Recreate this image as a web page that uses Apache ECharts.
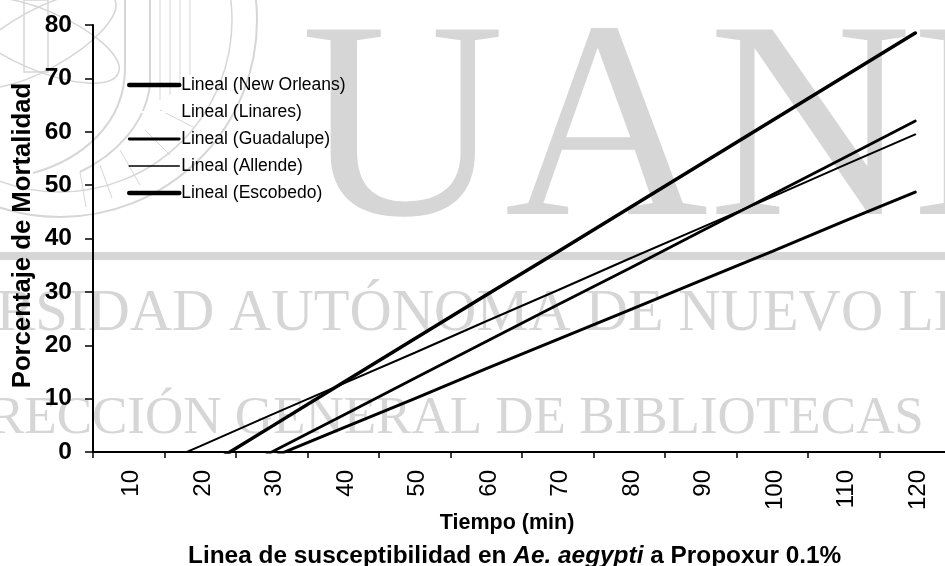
<!DOCTYPE html>
<html><head><meta charset="utf-8">
<style>html,body{margin:0;padding:0;background:#fff}#c{width:945px;height:566px}</style>
<script src="https://cdn.jsdelivr.net/npm/echarts@6/dist/echarts.min.js"></script>
</head><body><div id="c"></div>
<script>
const categories = ['10','20','30','40','50','60','70','80','90','100','110','120'];
const newOrleans = [-11.6,-3.4,4.8,13,21.2,29.4,37.5,45.7,53.9,62.1,70.3,78.5];
const linares = [];
const guadalupe = [-13.8,-6.9,0,6.9,13.8,20.7,27.6,34.4,41.3,48.2,55.1,62];
const allende = [-4.7,1.1,7,12.8,18.6,24.5,30.3,36.2,42,47.8,53.7,59.5];
const escobedo = [-12,-6.5,-1,4.5,10,15.6,21.1,26.6,32.1,37.6,43.2,48.7];
const wm = '#d6d6d6';
const serif = '"Liberation Serif"';
const sans = '"Liberation Sans"';
function ring(cx,cy,r,w){return {type:'circle',silent:true,z:-10,shape:{cx,cy,r},style:{fill:null,stroke:wm,lineWidth:w||1.5}};}
function txt(text,x,y,size){return {type:'text',silent:true,z:-10,x,y,style:{text,fill:wm,font:size+'px '+serif,textVerticalAlign:'bottom'}};}
function seg(a,b,c,d,w){return {type:'line',silent:true,z:-10,shape:{x1:a,y1:b,x2:c,y2:d},style:{stroke:wm,lineWidth:w||1}};}
function bez(x1,y1,cpx1,cpy1,cpx2,cpy2,x2,y2,w){return {type:'bezierCurve',silent:true,z:-10,shape:{x1,y1,cpx1,cpy1,cpx2,cpy2,x2,y2},style:{fill:null,stroke:wm,lineWidth:w||2}};}
const decor = [
  {type:'rect',silent:true,z:-11,shape:{x:0,y:252,width:945,height:8},style:{fill:wm}},
  txt('UANL',301,281,282),
  txt('UNIVERSIDAD AUTÓNOMA DE NUEVO LEÓN',-186,344,58.6),
  txt('DIRECCIÓN GENERAL DE BIBLIOTECAS',-67,446,53),
  ring(60,20,197,2), ring(60,20,172,1.5),
  seg(125,0,125,68,2), bez(125,68,125,125,80,160,33,173,2),
  seg(150,0,150,85,2), bez(150,85,145,125,115,155,80,172,2),
  {type:'ellipse',silent:true,z:-10,shape:{cx:40,cy:40,rx:85,ry:30},rotation:-0.4,originX:40,originY:40,style:{fill:null,stroke:wm,lineWidth:1.5}},
  {type:'ellipse',silent:true,z:-10,shape:{cx:40,cy:40,rx:85,ry:30},rotation:0.5,originX:40,originY:40,style:{fill:null,stroke:wm,lineWidth:1.5}},
  {type:'rect',silent:true,z:-10,shape:{x:24,y:0,width:24,height:72},style:{fill:null,stroke:wm,lineWidth:1.5}},
  seg(160,0,160,100),seg(170,0,170,95),seg(180,0,180,85),seg(190,0,190,75),
  seg(120,150,140,185),seg(100,165,112,198),seg(80,172,86,207),seg(145,130,170,155),seg(160,110,195,128)
];
const chart = echarts.init(document.getElementById('c'),null,{renderer:'canvas'});
function ser(name,data,w,color){return {name,type:'line',data,symbol:'none',clip:true,smooth:false,connectNulls:false,
  lineStyle:{color:color||'#000',width:w,cap:'round'},itemStyle:{color:color||'#000'},z:3};}
chart.setOption({
  animation:false,
  backgroundColor:'#fff',
  textStyle:{fontFamily:sans},
  title:{text:'{b|Linea de susceptibilidad en }{i|Ae. aegypti}{b| a Propoxur 0.1%}',left:183,top:539,
    textStyle:{rich:{b:{fontFamily:sans,fontWeight:'bold',fontSize:24.4,color:'#000'},i:{fontFamily:sans,fontWeight:'bold',fontStyle:'italic',fontSize:24.4,color:'#000'}}}},
  legend:{orient:'vertical',left:122,top:71,itemWidth:50,itemHeight:14,itemGap:9,
    itemStyle:{opacity:0,color:'rgba(0,0,0,0)',borderWidth:0},
    textStyle:{fontFamily:sans,fontSize:17.5,color:'#000',padding:[0,0,0,-3]},
    data:[
      {name:'Lineal (New Orleans)',lineStyle:{color:'#000',width:4.5}},
      {name:'Lineal (Linares)',lineStyle:{color:'#fff',width:2}},
      {name:'Lineal (Guadalupe)',lineStyle:{color:'#000',width:2.8}},
      {name:'Lineal (Allende)',lineStyle:{color:'#000',width:1.6}},
      {name:'Lineal (Escobedo)',lineStyle:{color:'#000',width:4.5}}
    ],selectedMode:false},
  grid:{left:93,top:25,width:858,height:427,containLabel:false,outerBoundsMode:'none'},
  xAxis:{type:'category',data:categories,boundaryGap:true,name:'Tiempo (min)',nameLocation:'middle',nameGap:60,nameMoveOverlap:false,
    nameTextStyle:{fontFamily:sans,fontWeight:'bold',fontSize:21.5,color:'#000',padding:[0,30,0,0]},
    axisLine:{show:true,lineStyle:{color:'#000',width:2}},
    axisTick:{show:true,length:6,lineStyle:{color:'#000',width:1.5},alignWithLabel:false},
    axisLabel:{rotate:90,fontFamily:sans,fontSize:24,color:'#000',margin:18,interval:0,verticalAlign:'top',lineHeight:6},
    splitLine:{show:false}},
  yAxis:{type:'value',min:0,max:80,interval:10,name:'Porcentaje de Mortalidad',nameLocation:'middle',nameGap:57,nameMoveOverlap:false,
    nameTextStyle:{fontFamily:sans,fontWeight:'bold',fontSize:25.7,color:'#000',padding:[0,0,0,6]},
    axisLine:{show:true,lineStyle:{color:'#000',width:2}},
    axisTick:{show:true,length:8,lineStyle:{color:'#000',width:1.5}},
    axisLabel:{fontFamily:sans,fontWeight:'bold',fontSize:24.5,color:'#000',margin:21},
    splitLine:{show:false}},
  graphic:decor,
  series:[
    ser('Lineal (New Orleans)',newOrleans,3.5),
    ser('Lineal (Linares)',linares,2,'#fff'),
    ser('Lineal (Guadalupe)',guadalupe,2.8),
    ser('Lineal (Allende)',allende,2),
    ser('Lineal (Escobedo)',escobedo,3)
  ]
});
</script></body></html>
